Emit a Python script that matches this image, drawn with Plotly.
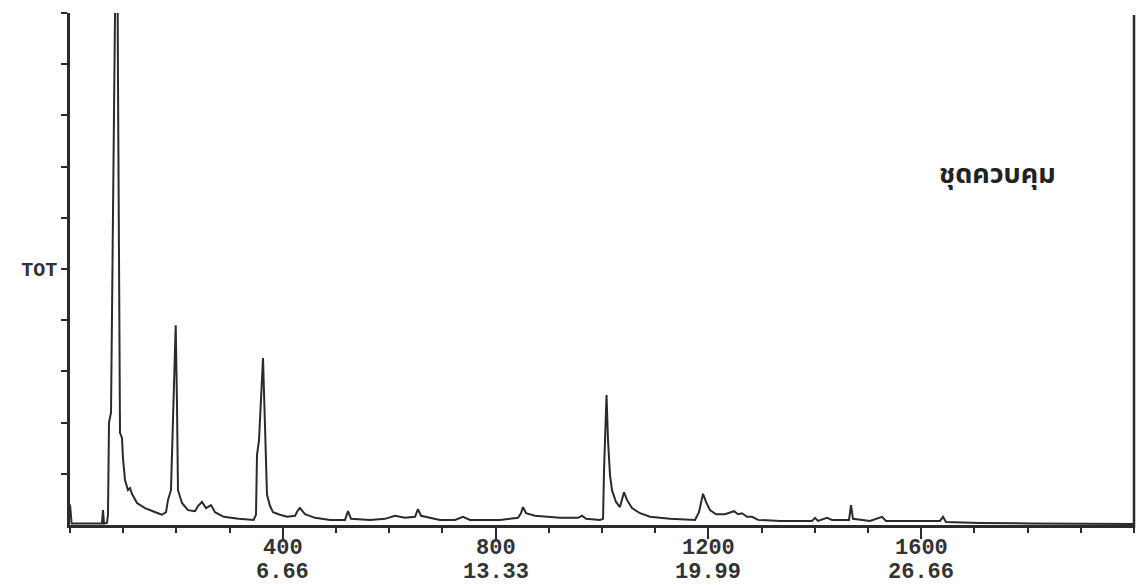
import plotly.graph_objects as go

# Scan number (x) and relative total-ion abundance (%)
scan = [0, 3, 60, 62, 63.9, 69.5, 71.4, 73.3, 77.1, 80.8, 84.6, 86.5, 88.3, 90.2, 92.1, 94, 97.7, 99.6,
        103.4, 107.1, 109, 112.8, 116.5, 125.9, 141, 165.4, 172.9, 180.5, 184.2, 189.8, 193.6, 198.7,
        201, 203, 210.5, 221.8, 235, 240.6, 248.1, 255.6, 265, 272.6, 289, 317, 345,
        349.6, 351.5, 355.3, 362.8, 366.5, 368.4, 370.3, 376, 381.6, 394.7, 407.9, 423, 428.6, 432.3,
        441.7, 460.5, 488.7, 516.9, 522.6, 528.2, 563.9, 592.1, 610.9, 629.7, 648.5, 654.1, 659.8,
        695.5, 723.7, 738.7, 751.9, 808.3, 842.1, 847.7, 851.5, 857.2, 874, 921.1, 955, 962.4, 970,
        996.2, 1002, 1003.8, 1005.6, 1008.5, 1011.3, 1015, 1018.8, 1026.3, 1033.8, 1037.6, 1041.3,
        1047, 1056.4, 1071.4, 1090.2, 1127.8, 1174.8, 1182.3, 1189.9, 1195.5, 1203, 1214.3, 1231.2,
        1248.1, 1255.6, 1263.2, 1272.6, 1282, 1293.3, 1334.6, 1394.7, 1400.4, 1406, 1423, 1432.4,
        1464.3, 1468.1, 1471.8, 1503.8, 1526.3, 1533.8, 1635.4, 1641, 1646.6, 1710.5, 1804.5,
        1898.5, 2000]
abundance = [4.0, 0.3, 0.3, 2.9, 0.3, 0.4, 2.0, 20, 22, 63.5, 100, 140, 130, 87, 44, 18, 17, 13,
             8.8, 7.2, 6.8, 7.2, 6.1, 4.3, 3.3, 2.3, 2.0, 2.5, 4.9, 6.8, 20.5, 39,
             24.4, 6.8, 4.3, 2.9, 2.7, 3.7, 4.5, 3.3, 3.9, 2.5, 1.6, 1.2, 1.0,
             2.0, 13.7, 16.6, 32.6, 20.5, 10.7, 5.9, 3.7, 2.5, 2.0, 1.6, 1.8, 2.9, 3.3,
             2.1, 1.4, 1.0, 1.0, 2.7, 1.2, 1.0, 1.2, 1.8, 1.4, 1.6, 3.1, 1.8,
             1.0, 1.0, 1.6, 1.0, 1.0, 1.4, 2.3, 3.5, 2.3, 1.8, 1.4, 1.4, 1.8, 1.2,
             1.0, 1.2, 10.7, 18, 25.4, 16.6, 9.8, 6.8, 4.5, 3.5, 4.9, 6.4,
             4.9, 3.3, 2.3, 1.6, 1.2, 1.0, 2.5, 6.1, 4.5, 2.9, 2.1, 2.1,
             2.7, 2.1, 2.3, 1.6, 1.6, 1.0, 0.8, 0.8, 1.4, 0.8, 1.4, 1.0,
             1.0, 3.9, 1.2, 0.8, 1.6, 0.8, 0.8, 1.6, 0.6, 0.4, 0.3,
             0.2, 0.2]

x_tick_scans = [400, 800, 1200, 1600]
x_tick_times = ["6.66", "13.33", "19.99", "26.66"]
y_tick_vals = [10, 20, 30, 40, 50, 60, 70, 80, 90, 100]
y_tick_text = ["", "", "", "", "TOT", "", "", "", "", ""]
label_text = "ชุดควบคุม"

ink = "#2b2b2b"
tick_font = dict(family="Liberation Mono", size=22, color="#333333", weight="bold")

fig = go.Figure()
fig.add_trace(go.Scatter(x=scan, y=abundance, mode="lines",
                         line=dict(color=ink, width=2), hoverinfo="skip",
                         showlegend=False))

annotations = [dict(text=label_text, x=1743, y=68.5, xref="x", yref="y",
                    showarrow=False, xanchor="center", yanchor="middle",
                    font=dict(family="Noto Sans Thai, Noto Sans, sans-serif", size=27,
                              color="#222222", weight="bold"))]
for s, t in zip(x_tick_scans, x_tick_times):
    annotations.append(dict(text=str(s), x=s, y=0, xref="x", yref="paper",
                            showarrow=False, xanchor="center", yanchor="middle",
                            yshift=-23, font=tick_font))
    annotations.append(dict(text=t, x=s, y=0, xref="x", yref="paper",
                            showarrow=False, xanchor="center", yanchor="middle",
                            yshift=-47, font=tick_font))

fig.update_layout(
    width=1139, height=585, autosize=False,
    margin=dict(l=70, r=5, t=13, b=60, autoexpand=False),
    paper_bgcolor="white", plot_bgcolor="white",
    xaxis=dict(range=[0, 2000], showline=True, linecolor=ink, linewidth=2.5,
               showgrid=False, zeroline=False, automargin=False,
               ticks="outside", ticklen=11, tickwidth=2, tickcolor=ink,
               tickvals=x_tick_scans, showticklabels=False,
               minor=dict(dtick=100, tick0=0, ticks="outside", ticklen=5, tickwidth=2,
                          tickcolor=ink, showgrid=False)),
    yaxis=dict(range=[0, 100], showline=True, linecolor=ink, linewidth=2.5,
               showgrid=False, zeroline=False, automargin=False,
               ticks="outside", ticklen=6, tickwidth=2, tickcolor=ink,
               tickvals=y_tick_vals, ticktext=y_tick_text,
               tickfont=dict(family="Liberation Mono", size=20, color="#333333", weight="bold")),
    shapes=[dict(type="line", xref="paper", yref="paper", x0=1, x1=1, y0=-0.006, y1=0.996,
                 line=dict(color=ink, width=2.5))],
    annotations=annotations,
)

fig.write_html("out.html")
